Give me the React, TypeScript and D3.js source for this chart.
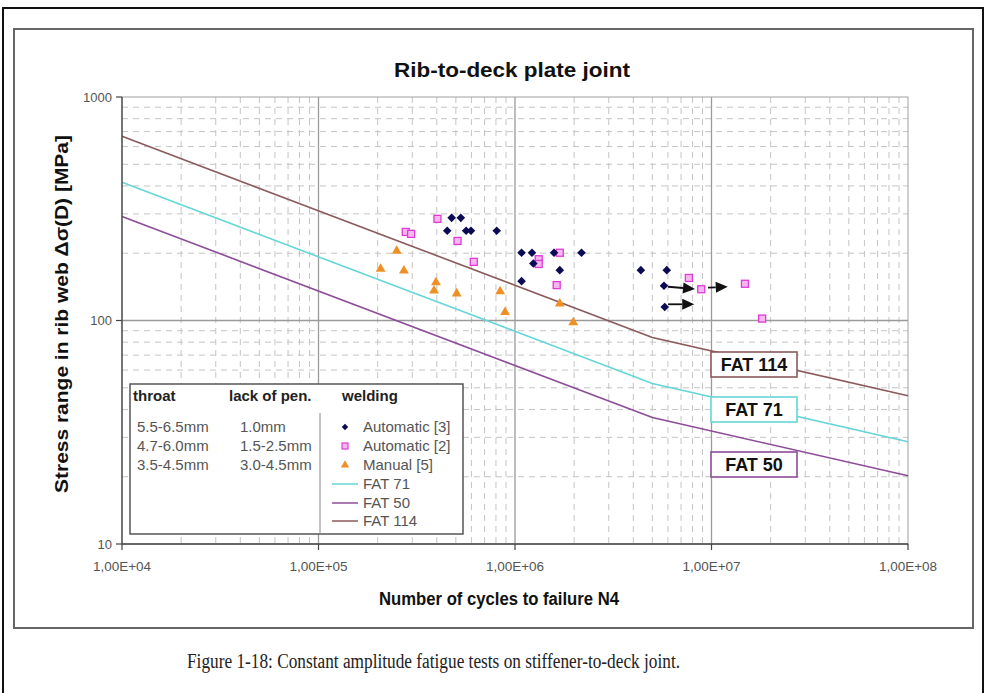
import React from "react";
import * as d3 from "d3";

// ---- data ----
const auto3N = [4.76e5, 5.3e5, 4.52e5, 5.64e5, 5.97e5, 8.07e5, 1.08e6, 1.22e6, 1.58e6, 2.18e6, 1.24e6, 1.69e6, 1.08e6, 4.37e6, 5.92e6, 5.73e6, 5.78e6];
const auto3S = [288, 288, 252, 252, 252, 252, 201, 201, 201, 201, 180, 168, 150, 168, 168, 143, 115];

const auto2N = [4.03e5, 2.78e5, 2.96e5, 5.1e5, 6.17e5, 1.32e6, 1.32e6, 1.69e6, 1.63e6, 7.67e6, 8.87e6, 1.48e7, 1.81e7];
const auto2S = [285, 249, 244, 227, 183, 188, 179, 201, 144, 155, 138, 146, 102];

const manualN = [2.5e5, 2.07e5, 2.72e5, 3.96e5, 3.87e5, 5.05e5, 8.4e5, 8.9e5, 1.69e6, 1.98e6];
const manualS = [205, 170, 167, 148, 136, 132, 135, 109, 119, 98];

const fatN = [1e4, 5e6, 1e8];
const fat71S = [415, 52.3, 28.7];
const fat50S = [292, 36.8, 20.2];
const fat114S = [667, 84.0, 46.1];

const arrowFromN = [6.01e6, 9.6e6, 6.01e6];
const arrowFromS = [141.6, 140.3, 118.2];
const arrowToN = [8.24e6, 1.21e7, 8.17e6];
const arrowToS = [138.3, 141.6, 118.2];

const xTicks = [1e4, 1e5, 1e6, 1e7, 1e8];
const xTickLabels = ["1,00E+04", "1,00E+05", "1,00E+06", "1,00E+07", "1,00E+08"];
const yTicks = [10, 100, 1000];
const yTickLabels = ["10", "100", "1000"];

const legendThroat = ["5.5-6.5mm", "4.7-6.0mm", "3.5-4.5mm"];
const legendPen = ["1.0mm", "1.5-2.5mm", "3.0-4.5mm"];
const legendWelding = ["Automatic [3]", "Automatic [2]", "Manual [5]", "FAT 71", "FAT 50", "FAT 114"];

// ---- styling ----
const C_NAVY = "#0b0b55";
const C_MAG = "#e03ad8";
const C_MAG_FILL = "#f6b8f0";
const C_ORANGE = "#ee9026";
const C_FAT71 = "#66d6d8";
const C_FAT50 = "#8c4c98";
const C_FAT114 = "#8a5a5a";

const W = 992;
const H = 693;

export default function App() {
  const x = d3.scaleLog().domain([1e4, 1e8]).range([122, 908]);
  const y = d3.scaleLog().domain([10, 1000]).range([544, 97]);

  const isMajor = (v: number) => Math.abs(Math.log10(v) - Math.round(Math.log10(v))) < 1e-9;
  const xMinor = x.ticks().filter((v) => !isMajor(v));
  const yMinor = y.ticks().filter((v) => !isMajor(v));
  const xMajorInner = x.ticks().filter((v) => isMajor(v) && v > 1e4 && v < 1e8);
  const yMajorInner = y.ticks().filter((v) => isMajor(v) && v > 10 && v < 1000);

  const line = d3
    .line<[number, number]>()
    .x((d) => x(d[0]))
    .y((d) => y(d[1]));

  const fatSeries = [
    { s: fat71S, c: C_FAT71 },
    { s: fat50S, c: C_FAT50 },
    { s: fat114S, c: C_FAT114 },
  ];

  const diamond = "M0,-4.3L4.3,0L0,4.3L-4.3,0Z";
  const tri = d3.symbol().type(d3.symbolTriangle).size(42)() as string;

  const font = "Arial, 'Liberation Sans', Helvetica, sans-serif";

  const fatBoxes = [
    { label: "FAT 114", c: C_FAT114, y0: 352 },
    { label: "FAT 71", c: C_FAT71, y0: 397 },
    { label: "FAT 50", c: C_FAT50, y0: 452 },
  ];

  const legRowY = [427, 446, 465, 484, 503, 521];

  return (
    <svg
      width={W}
      height={H}
      style={{ position: "fixed", left: 0, top: 0, background: "#fff" }}
      fontFamily={font}
    >
      <rect x={0} y={0} width={W} height={H} fill="#fff" />
      {/* outer frame */}
      <rect x={3} y={8} width={980} height={720} fill="none" stroke="#111" strokeWidth={2} />
      {/* chart frame */}
      <rect x={14} y={29} width={959} height={599} fill="#fff" stroke="#666" strokeWidth={2} />

      {/* title */}
      <text x={512} y={77} textAnchor="middle" fontSize={20} fontWeight="bold" fill="#111" textLength={236} lengthAdjust="spacingAndGlyphs">
        Rib-to-deck plate joint
      </text>

      {/* minor grid */}
      <g stroke="#c4c4c4" strokeWidth={1} strokeDasharray="6,5">
        {xMinor.map((v, i) => (
          <line key={"xm" + i} x1={x(v)} x2={x(v)} y1={97} y2={544} />
        ))}
        {yMinor.map((v, i) => (
          <line key={"ym" + i} x1={122} x2={908} y1={y(v)} y2={y(v)} />
        ))}
      </g>
      {/* major grid */}
      <g stroke="#9a9a9a" strokeWidth={1.3}>
        {xMajorInner.map((v, i) => (
          <line key={"xM" + i} x1={x(v)} x2={x(v)} y1={97} y2={544} />
        ))}
        {yMajorInner.map((v, i) => (
          <line key={"yM" + i} x1={122} x2={908} y1={y(v)} y2={y(v)} />
        ))}
      </g>
      <rect x={122} y={97} width={786} height={447} fill="none" stroke="#a0a0a0" strokeWidth={1} />

      {/* FAT lines */}
      {fatSeries.map((f, i) => (
        <path
          key={"fat" + i}
          d={line(fatN.map((n, j) => [n, f.s[j]] as [number, number])) as string}
          fill="none"
          stroke={f.c}
          strokeWidth={1.6}
        />
      ))}

      {/* legend box */}
      <rect x={130} y={384} width={333} height={150} fill="#fff" stroke="#555" strokeWidth={1.5} />
      <line x1={320} x2={320} y1={413} y2={534} stroke="#888" strokeWidth={1} />
      <g fontSize={15} fontWeight="bold" fill="#222">
        <text x={133} y={401}>throat</text>
        <text x={229} y={401}>lack of pen.</text>
        <text x={342} y={401}>welding</text>
      </g>
      <g fontSize={15} fill="#555">
        {legendThroat.map((t, i) => (
          <text key={"lt" + i} x={137} y={legRowY[i] + 5}>
            {t}
          </text>
        ))}
        {legendPen.map((t, i) => (
          <text key={"lp" + i} x={240} y={legRowY[i] + 5}>
            {t}
          </text>
        ))}
        {legendWelding.map((t, i) => (
          <text key={"lw" + i} x={363} y={legRowY[i] + 5}>
            {t}
          </text>
        ))}
      </g>
      <path d={diamond} transform={`translate(345,${legRowY[0]}) scale(0.75)`} fill={C_NAVY} />
      <rect x={342} y={legRowY[1] - 3} width={6} height={6} fill={C_MAG_FILL} stroke={C_MAG} strokeWidth={1.2} />
      <path d={tri} transform={`translate(345,${legRowY[2]}) scale(0.85)`} fill={C_ORANGE} />
      {[C_FAT71, C_FAT50, C_FAT114].map((c, i) => (
        <line key={"ll" + i} x1={332} x2={358} y1={legRowY[3 + i]} y2={legRowY[3 + i]} stroke={c} strokeWidth={1.5} />
      ))}

      {/* data points */}
      {manualN.map((n, i) => (
        <path key={"m" + i} d={tri} transform={`translate(${x(n)},${y(manualS[i])})`} fill={C_ORANGE} />
      ))}
      {auto2N.map((n, i) => (
        <rect
          key={"a2" + i}
          x={x(n) - 3.5}
          y={y(auto2S[i]) - 3.5}
          width={7}
          height={7}
          fill={C_MAG_FILL}
          stroke={C_MAG}
          strokeWidth={1.3}
        />
      ))}
      {auto3N.map((n, i) => (
        <path key={"a3" + i} d={diamond} transform={`translate(${x(n)},${y(auto3S[i])})`} fill={C_NAVY} />
      ))}

      {/* arrows */}
      {arrowFromN.map((n, i) => {
        const x1 = x(n);
        const y1 = y(arrowFromS[i]);
        const x2 = x(arrowToN[i]);
        const y2 = y(arrowToS[i]);
        const ang = Math.atan2(y2 - y1, x2 - x1);
        const L = 12;
        const Wd = 5.5;
        const bx = x2 - L * Math.cos(ang);
        const by = y2 - L * Math.sin(ang);
        const px = -Math.sin(ang) * Wd;
        const py = Math.cos(ang) * Wd;
        return (
          <g key={"ar" + i}>
            <line x1={x1} y1={y1} x2={bx} y2={by} stroke="#111" strokeWidth={1.8} />
            <path d={`M${x2},${y2}L${bx + px},${by + py}L${bx - px},${by - py}Z`} fill="#111" />
          </g>
        );
      })}

      {/* FAT label boxes */}
      {fatBoxes.map((b, i) => (
        <g key={"fb" + i}>
          <rect x={711} y={b.y0} width={86} height={25} fill="#fff" stroke={b.c} strokeWidth={1.6} />
          <text x={754} y={b.y0 + 19} textAnchor="middle" fontSize={18} fontWeight="bold" fill="#111">
            {b.label}
          </text>
        </g>
      ))}

      {/* axes */}
      <line x1={122} x2={122} y1={97} y2={544} stroke="#444" strokeWidth={1.3} />
      <line x1={122} x2={908} y1={544} y2={544} stroke="#444" strokeWidth={1.3} />
      {yTicks.map((v, i) => (
        <g key={"yt" + i}>
          <line x1={116} x2={122} y1={y(v)} y2={y(v)} stroke="#444" strokeWidth={1.2} />
          <text x={112} y={y(v) + 4.5} textAnchor="end" fontSize={13} fill="#555">
            {yTickLabels[i]}
          </text>
        </g>
      ))}
      {xTicks.map((v, i) => (
        <g key={"xt" + i}>
          <line x1={x(v)} x2={x(v)} y1={544} y2={550} stroke="#444" strokeWidth={1.2} />
          <text x={x(v)} y={571} textAnchor="middle" fontSize={13.5} fill="#555">
            {xTickLabels[i]}
          </text>
        </g>
      ))}

      {/* axis titles */}
      <text x={499} y={605} textAnchor="middle" fontSize={18} fontWeight="bold" fill="#111" textLength={240} lengthAdjust="spacingAndGlyphs">
        Number of cycles to failure N4
      </text>
      <text
        transform="translate(68,314) rotate(-90)"
        textAnchor="middle"
        fontSize={18}
        fontWeight="bold"
        fill="#111"
        textLength={358}
        lengthAdjust="spacingAndGlyphs"
      >
        Stress range in rib web Δσ(D) [MPa]
      </text>

      {/* caption */}
      <text
        x={187}
        y={668}
        fontSize={20}
        fill="#222"
        fontFamily="'Liberation Serif', 'Times New Roman', serif"
        textLength={493}
        lengthAdjust="spacingAndGlyphs"
      >
        Figure 1-18: Constant amplitude fatigue tests on stiffener-to-deck joint.
      </text>
    </svg>
  );
}
